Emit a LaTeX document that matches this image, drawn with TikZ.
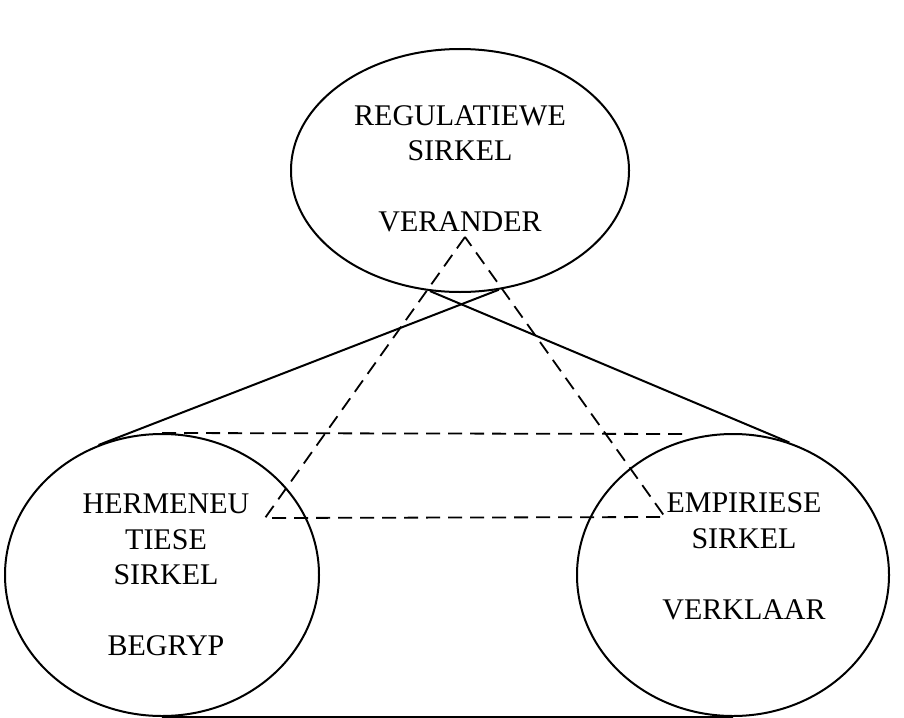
\documentclass[tikz,border=0pt]{standalone}
\usepackage{fontspec}
\setmainfont{Liberation Serif}
\usetikzlibrary{shapes.geometric, positioning}

\begin{document}
\begin{tikzpicture}
  [
    x=1pt, y=-1pt,
    sirkel/.style={draw, ellipse, line width=2pt, inner sep=0pt},
    woord/.style={align=center, font=\fontsize{30}{35.5}\selectfont},
    lyn/.style={line width=2pt},
    stippel/.style={line width=1.8pt, dash pattern=on 14pt off 8pt}
  ]
  \useasboundingbox (0,0) rectangle (904,717);

  % die drie sirkels
  \node[sirkel, minimum width=338pt, minimum height=243pt] (reg) at (460,170.5) {};
  \node[sirkel, minimum width=314pt, minimum height=282pt] (her) at (162,575) {};
  \node[sirkel, minimum width=312pt, minimum height=282pt] (emp) at (733,575) {};

  \node[woord] (regtxt) at (460,169) {REGULATIEWE\\SIRKEL\\[35.5pt]VERANDER};
  \node[woord] (hertxt) at (166,575) {HERMENEU\\TIESE\\SIRKEL\\[35.5pt]BEGRYP};
  \node[woord] (emptxt) at (744,556.5) {EMPIRIESE\\SIRKEL\\[35.5pt]VERKLAAR};

  % verbindings
  \draw[lyn] (her.116) -- (reg.288.5);
  \draw[lyn] (reg.256) -- (emp.67);
  \draw[lyn] (her.south) -- (emp.south);

  % driehoek
  \coordinate (top) at (465,237);
  \coordinate (links) at (265,518);
  \coordinate (regs) at (665,517);
  \coordinate (stipend) at (688,434);
  \draw[stippel] (top) -- (links) -- (regs) -- cycle;
  \draw[stippel] (her.north) -- (stipend);
\end{tikzpicture}
\end{document}
